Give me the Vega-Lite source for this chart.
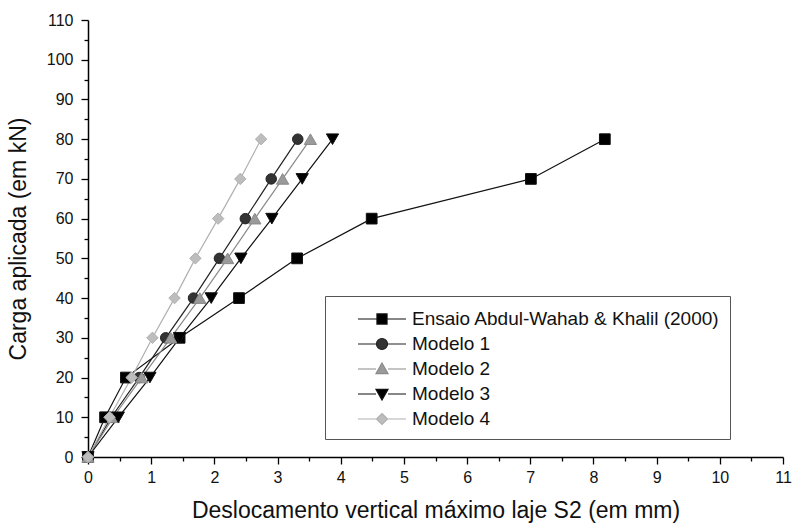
{
  "$schema": "https://vega.github.io/schema/vega-lite/v6.json",
  "width": 695,
  "height": 437,
  "autosize": "none",
  "padding": {"left": 88, "top": 20, "right": 12, "bottom": 74},
  "background": "white",
  "config": {
    "view": {"stroke": null},
    "font": "Liberation Sans",
    "axis": {"grid": false, "domainColor": "#000", "domainWidth": 1.5, "tickColor": "#000", "tickWidth": 1.3, "labelFont": "Liberation Sans", "labelFontSize": 16, "labelColor": "#111", "titleFont": "Liberation Sans", "titleFontSize": 23, "titleFontWeight": "normal", "titleColor": "#111"},
    "legend": {"title": null, "orient": "none", "legendX": 237, "legendY": 276, "padding": 10, "strokeColor": "#555", "fillColor": "white", "symbolSize": 576, "symbolOffset": 34, "symbolStrokeWidth": 1.2, "labelFontSize": 19, "labelFont": "Liberation Sans", "labelColor": "#111", "labelLimit": 400, "rowPadding": 2, "labelOffset": 17, "symbolOpacity": 1}
  },
  "data": {"values": [
    {"serie": "Ensaio Abdul-Wahab & Khalil (2000)", "x": 0, "y": 0},
    {"serie": "Ensaio Abdul-Wahab & Khalil (2000)", "x": 0.27, "y": 10},
    {"serie": "Ensaio Abdul-Wahab & Khalil (2000)", "x": 0.6, "y": 20},
    {"serie": "Ensaio Abdul-Wahab & Khalil (2000)", "x": 1.45, "y": 30},
    {"serie": "Ensaio Abdul-Wahab & Khalil (2000)", "x": 2.39, "y": 40},
    {"serie": "Ensaio Abdul-Wahab & Khalil (2000)", "x": 3.31, "y": 50},
    {"serie": "Ensaio Abdul-Wahab & Khalil (2000)", "x": 4.49, "y": 60},
    {"serie": "Ensaio Abdul-Wahab & Khalil (2000)", "x": 7.01, "y": 70},
    {"serie": "Ensaio Abdul-Wahab & Khalil (2000)", "x": 8.18, "y": 80},
    {"serie": "Modelo 1", "x": 0, "y": 0},
    {"serie": "Modelo 1", "x": 0.37, "y": 10},
    {"serie": "Modelo 1", "x": 0.81, "y": 20},
    {"serie": "Modelo 1", "x": 1.23, "y": 30},
    {"serie": "Modelo 1", "x": 1.67, "y": 40},
    {"serie": "Modelo 1", "x": 2.08, "y": 50},
    {"serie": "Modelo 1", "x": 2.49, "y": 60},
    {"serie": "Modelo 1", "x": 2.9, "y": 70},
    {"serie": "Modelo 1", "x": 3.32, "y": 80},
    {"serie": "Modelo 2", "x": 0, "y": 0},
    {"serie": "Modelo 2", "x": 0.4, "y": 10},
    {"serie": "Modelo 2", "x": 0.85, "y": 20},
    {"serie": "Modelo 2", "x": 1.31, "y": 30},
    {"serie": "Modelo 2", "x": 1.77, "y": 40},
    {"serie": "Modelo 2", "x": 2.21, "y": 50},
    {"serie": "Modelo 2", "x": 2.64, "y": 60},
    {"serie": "Modelo 2", "x": 3.08, "y": 70},
    {"serie": "Modelo 2", "x": 3.52, "y": 80},
    {"serie": "Modelo 3", "x": 0, "y": 0},
    {"serie": "Modelo 3", "x": 0.48, "y": 10},
    {"serie": "Modelo 3", "x": 0.98, "y": 20},
    {"serie": "Modelo 3", "x": 1.45, "y": 30},
    {"serie": "Modelo 3", "x": 1.95, "y": 40},
    {"serie": "Modelo 3", "x": 2.42, "y": 50},
    {"serie": "Modelo 3", "x": 2.91, "y": 60},
    {"serie": "Modelo 3", "x": 3.39, "y": 70},
    {"serie": "Modelo 3", "x": 3.87, "y": 80},
    {"serie": "Modelo 4", "x": 0, "y": 0},
    {"serie": "Modelo 4", "x": 0.34, "y": 10},
    {"serie": "Modelo 4", "x": 0.69, "y": 20},
    {"serie": "Modelo 4", "x": 1.02, "y": 30},
    {"serie": "Modelo 4", "x": 1.37, "y": 40},
    {"serie": "Modelo 4", "x": 1.7, "y": 50},
    {"serie": "Modelo 4", "x": 2.06, "y": 60},
    {"serie": "Modelo 4", "x": 2.41, "y": 70},
    {"serie": "Modelo 4", "x": 2.74, "y": 80}
  ]},
  "encoding": {
    "x": {"field": "x", "type": "quantitative", "scale": {"domain": [0, 11], "nice": false, "zero": false},
      "axis": {"title": "Deslocamento vertical máximo laje S2 (em mm)", "values": [0,0.5,1,1.5,2,2.5,3,3.5,4,4.5,5,5.5,6,6.5,7,7.5,8,8.5,9,9.5,10,10.5,11],
        "labelExpr": "datum.value % 1 === 0 ? format(datum.value, 'd') : ''", "tickSize": {"condition": {"test": "datum.value % 1 !== 0", "value": 4}, "value": 7}, "labelPadding": 5, "titlePadding": 14, "labelFlush": false}},
    "y": {"field": "y", "type": "quantitative", "scale": {"domain": [0, 110], "nice": false},
      "axis": {"title": "Carga aplicada (em kN)", "values": [0,5,10,15,20,25,30,35,40,45,50,55,60,65,70,75,80,85,90,95,100,105,110],
        "labelExpr": "datum.value % 10 === 0 ? format(datum.value, 'd') : ''", "tickSize": {"condition": {"test": "datum.value % 10 !== 0", "value": 4}, "value": 7}, "labelPadding": 8, "titlePadding": 16, "labelFlush": false}},
    "stroke": {"field": "serie", "type": "nominal",
      "scale": {"domain": ["Ensaio Abdul-Wahab & Khalil (2000)", "Modelo 1", "Modelo 2", "Modelo 3", "Modelo 4"], "range": ["#111111", "#222222", "#8a8a8a", "#111111", "#b0b0b0"]}}
  },
  "layer": [
    {
      "mark": {"type": "line", "strokeWidth": 1.2},
      "encoding": {"detail": {"field": "serie"}}
    },
    {
      "transform": [{"filter": "datum.serie === 'Ensaio Abdul-Wahab & Khalil (2000)'"}],
      "mark": {"type": "point", "filled": true, "shape": "square", "size": 115, "strokeWidth": 1, "opacity": 1, "fill": "#000000"}
    },
    {
      "transform": [{"filter": "datum.serie === 'Modelo 1'"}],
      "mark": {"type": "point", "filled": true, "shape": "circle", "size": 110, "strokeWidth": 1, "opacity": 1, "fill": "#333333"}
    },
    {
      "transform": [{"filter": "datum.serie === 'Modelo 2'"}],
      "mark": {"type": "point", "filled": true, "shape": "triangle-up", "size": 150, "strokeWidth": 1, "opacity": 1, "fill": "#9a9a9a"}
    },
    {
      "transform": [{"filter": "datum.serie === 'Modelo 3'"}],
      "mark": {"type": "point", "filled": true, "shape": "triangle-down", "size": 150, "strokeWidth": 1, "opacity": 1, "fill": "#000000"}
    },
    {
      "transform": [{"filter": "datum.serie === 'Modelo 4'"}],
      "mark": {"type": "point", "filled": true, "shape": "diamond", "size": 130, "strokeWidth": 1, "opacity": 1, "fill": "#bdbdbd"}
    },
    {
      "transform": [{"filter": "datum.y < 0"}],
      "mark": {"type": "point", "filled": true, "strokeWidth": 1.2, "opacity": 1},
      "encoding": {
        "fill": {"field": "serie", "type": "nominal",
          "scale": {"domain": ["Ensaio Abdul-Wahab & Khalil (2000)", "Modelo 1", "Modelo 2", "Modelo 3", "Modelo 4"], "range": ["#000000", "#333333", "#9a9a9a", "#000000", "#bdbdbd"]}},
        "shape": {"field": "serie", "type": "nominal",
          "scale": {"domain": ["Ensaio Abdul-Wahab & Khalil (2000)", "Modelo 1", "Modelo 2", "Modelo 3", "Modelo 4"],
            "range": [
              "M-2,0H-0.42M0.42,0H2M-0.42,-0.42H0.42V0.42H-0.42Z",
              "M-2,0H-0.46M0.46,0H2M-0.46,0A0.46,0.46,0,1,0,0.46,0A0.46,0.46,0,1,0,-0.46,0Z",
              "M-2,0H-0.5M0.5,0H2M0,-0.5L0.5,0.38L-0.5,0.38Z",
              "M-2,0H-0.5M0.5,0H2M0,0.5L0.5,-0.38L-0.5,-0.38Z",
              "M-2,0H-0.46M0.46,0H2M0,-0.46L0.46,0L0,0.46L-0.46,0Z"
            ]}}
      }
    }
  ]
}
